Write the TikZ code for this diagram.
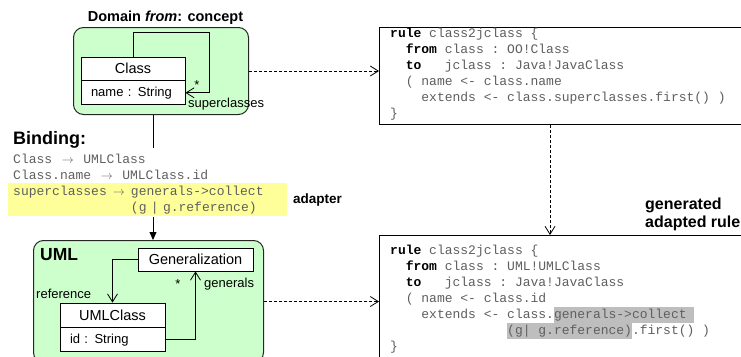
\documentclass[tikz,border=0pt]{standalone}
\usepackage{xcolor}
\usepackage{fontspec}
\setmainfont{Liberation Sans}
\setmonofont{Liberation Mono}
\usepackage{tikz}
\usetikzlibrary{calc, positioning, arrows.meta}
\definecolor{domgreen}{RGB}{204,255,204}
\definecolor{adaptyellow}{RGB}{255,255,153}
\definecolor{codegray}{RGB}{95,95,95}
\definecolor{hlgray}{RGB}{190,190,190}
\newcommand{\codefont}{\fontsize{13}{16}\selectfont\ttfamily}
\newcommand{\kw}[1]{{\bfseries\color{black}#1}}
\newcommand{\blank}[1]{\hphantom{#1}}
\newcommand{\maps}{\makebox[15.5pt]{$\rightarrow$}}
\newcommand{\hlcode}[1]{{\setlength{\fboxsep}{0pt}\colorbox{hlgray}{\strut#1}}}
\tikzstyle{greenbox}   = [draw=black!85, fill=domgreen, rounded corners=10pt, line width=1pt, anchor=north west, inner sep=0pt]
\tikzstyle{classhead}  = [draw, fill=white, line width=0.8pt, minimum width=104pt, minimum height=23pt, inner sep=0pt, font=\fontsize{14.5}{17}\selectfont]
\tikzstyle{classattr}  = [draw, fill=white, line width=0.8pt, text width=84pt, inner xsep=10pt, inner ysep=0pt, minimum height=24pt, align=left, font=\fontsize{13}{15}\selectfont]
\tikzstyle{rulebox}    = [draw, fill=white, line width=1pt, anchor=north west, inner sep=0pt]
\tikzstyle{code}       = [anchor=north west, inner sep=0pt, align=left, text=codegray, font=\codefont]
\tikzstyle{adaptbox}   = [fill=adaptyellow, anchor=north west, inner xsep=5pt, inner ysep=2.5pt, text width=269pt, align=left, text=codegray, font=\codefont]
\tikzstyle{lbl}        = [inner sep=0pt, font=\fontsize{13}{15}\selectfont]
\tikzstyle{heading}    = [inner sep=0pt, font=\bfseries]
\tikzstyle{assoc}      = [line width=0.8pt, -{Straight Barb[length=8pt,width=10pt]}]
\tikzstyle{dasharrow}  = [line width=0.8pt, dash pattern=on 3pt off 2pt, -{Straight Barb[length=8pt,width=10pt]}]
\tikzstyle{solidarrow} = [line width=0.8pt, -{Triangle[length=8pt,width=7pt]}]

\begin{document}
\begin{tikzpicture}[x=1pt, y=-1pt]
    \useasboundingbox (0,0) rectangle (741,356);
    \clip (0,0) rectangle (741,356);

    \node (domain) [greenbox, minimum width=175pt, minimum height=87pt] at (73,27) {};
    \node (domtitle) [heading, anchor=base, font=\bfseries\fontsize{14.5}{17}\selectfont] at (165.5,21) {Domain \textit{from}: concept};
    \node (cls)     [classhead] at (133,68.5) {Class};
    \node (clsattr) [classattr, below=0pt of cls] {name : String};
    \coordinate (loop) at (209,32);
    \draw [assoc] (cls.north) |- (loop) |- (clsattr.east);
    \node (star1)  [lbl, anchor=base] at (197,89) {*};
    \node (supers) [lbl, anchor=base west] at (188,107.5) {superclasses};

    \node (bindtitle) [heading, anchor=base west, font=\bfseries\fontsize{18}{21}\selectfont] at (13,144.5) {Binding:};
    \node (bind)  [code] at (13,154) {Class \maps{} UMLClass\\Class.name \maps{} UMLClass.id};
    \node (adapt) [adaptbox] at (8,183) {superclasses \maps{} generals->collect\\\blank{superclasses \maps{} }(g | g.reference)};
    \node (adaptlbl) [heading, anchor=base west, font=\bfseries\fontsize{13.5}{16}\selectfont] at (293,203) {adapter};

    \node (uml) [greenbox, minimum width=230pt, minimum height=122pt] at (33,240) {};
    \node (umltitle) [heading, anchor=base west, font=\bfseries\fontsize{17.5}{20}\selectfont] at (40,260) {UML};
    \node (gen)     [classhead, minimum width=115pt] at (195.5,259.5) {Generalization};
    \node (umlcls)  [classhead, minimum width=105pt, minimum height=24pt] at (112.5,315) {UMLClass};
    \node (umlattr) [classattr, text width=85pt, below=0pt of umlcls] {id : String};
    \draw [assoc] (gen.west) -| (umlcls.north);
    \draw [assoc] (umlattr.east) -| (gen.south);
    \node (refl)  [lbl, anchor=base west] at (36,298) {reference};
    \node (star2) [lbl, anchor=base] at (178,288.5) {*};
    \node (genl)  [lbl, anchor=base west] at (204,287.5) {generals};

    \coordinate (bindlink) at (153,148);
    \draw [line width=0.8pt] (domain.south -| bindlink) -- (bindlink);
    \draw [solidarrow] (bindlink |- adapt.south) -- (bindlink |- uml.north);

    \node (rule1) [rulebox, minimum width=400pt, minimum height=97pt] at (379,27) {};
    \node (code1) [code] at ([xshift=11pt, yshift=-1pt]rule1.north west) {%
        \kw{rule} class2jclass \{\\
        \blank{xx}\kw{from} class : OO!Class\\
        \blank{xx}\kw{to}\ \ \ jclass : Java!JavaClass\\
        \blank{xx}( name <- class.name\\
        \blank{xxxx}extends <- class.superclasses.first() )\\
        \}};

    \node (rule2) [rulebox, minimum width=400pt, minimum height=140pt] at (379,235) {};
    \node (code2) [code] at ([xshift=11pt, yshift=-10pt]rule2.north west) {%
        \kw{rule} class2jclass \{\\
        \blank{xx}\kw{from} class : UML!UMLClass\\
        \blank{xx}\kw{to}\ \ \ jclass : Java!JavaClass\\
        \blank{xx}( name <- class.id\\
        \blank{xxxx}extends <- class.\hlcode{generals->collect }\\
        \blank{xxxxxxxxxxxxxxx}\hlcode{(g| g.reference)}.first() )\\
        \}};
    \node (genlbl) [heading, anchor=north west, align=left, font=\bfseries\fontsize{16}{18}\selectfont] at (645,198) {generated\\adapted rule};

    \draw [dasharrow] (domain.east) -- (domain.east -| rule1.west);
    \draw [dasharrow] (uml.east) -- (uml.east -| rule2.west);
    \draw [dasharrow] ([xshift=171pt]rule1.south west) -- ([xshift=171pt]rule1.south west |- rule2.north);
\end{tikzpicture}
\end{document}
